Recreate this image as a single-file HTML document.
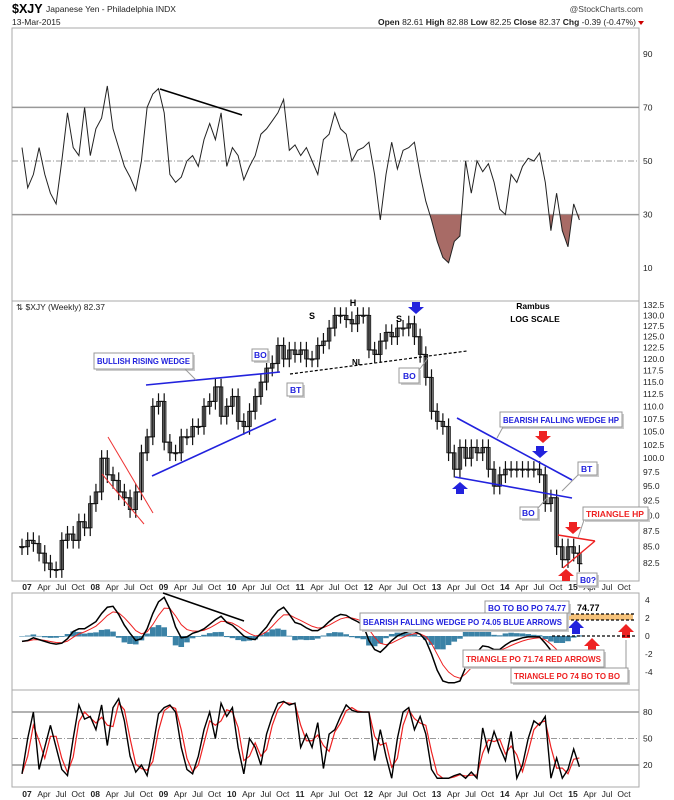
<!DOCTYPE html>
<html><head><meta charset="utf-8"><style>
html,body{margin:0;padding:0;background:#fff;}
svg{display:block;font-family:"Liberation Sans",sans-serif;}
.ax{font-size:8.5px;fill:#222;}
.bx{fill:#fff;stroke:#999;stroke-width:1;}
.sh{fill:#ccc;}
.bt{font-size:8.5px;font-weight:bold;}
</style></head><body>
<svg id="chart" width="674" height="800" viewBox="0 0 674 800" xmlns="http://www.w3.org/2000/svg">
<rect width="674" height="800" fill="#fff"/>
<g>
<text x="12" y="13" font-size="12.5" font-weight="bold">$XJY</text>
<text x="46" y="12" font-size="8.5" fill="#222">Japanese Yen - Philadelphia INDX</text>
<text x="12" y="25" font-size="8.5" fill="#222">13-Mar-2015</text>
<text x="643" y="12" font-size="8.5" fill="#444" text-anchor="end">@StockCharts.com</text>
<text x="636" y="25" font-size="8.5" fill="#222" text-anchor="end"><tspan font-weight="bold">Open</tspan> 82.61 <tspan font-weight="bold">High</tspan> 82.88 <tspan font-weight="bold">Low</tspan> 82.25 <tspan font-weight="bold">Close</tspan> 82.37 <tspan font-weight="bold">Chg</tspan> -0.39 (-0.47%)</text>
<polygon points="638,21 644,21 641,25" fill="#c00"/>
</g>
<g id="frames" fill="none" stroke="#aaa" stroke-width="1">
<rect x="12" y="28" width="627" height="273"/>
<rect x="12" y="301" width="627" height="280"/>
<rect x="12" y="593" width="627" height="97"/>
<rect x="12" y="690" width="627" height="97"/>
</g>
<g id="marks"></g>
<g id="axes"></g>
<g id="annot">
<text x="16" y="310" font-size="8.5" fill="#222">⇅ $XJY (Weekly) 82.37</text>
<text x="533" y="309" font-size="8.5" font-weight="bold" text-anchor="middle">Rambus</text>
<text x="535" y="322" font-size="8.5" font-weight="bold" text-anchor="middle">LOG SCALE</text>
<line x1="160" y1="89" x2="242" y2="115" stroke="#000" stroke-width="1.5"/>
<line x1="108" y1="437" x2="153" y2="513" stroke="#e33" stroke-width="1"/>
<line x1="102" y1="474" x2="144" y2="524" stroke="#e33" stroke-width="1"/>
<line x1="146" y1="385" x2="280" y2="372" stroke="#22d" stroke-width="1.6"/>
<line x1="152" y1="476" x2="276" y2="419" stroke="#22d" stroke-width="1.6"/>
<line x1="290" y1="374" x2="467" y2="351" stroke="#000" stroke-width="1.2" stroke-dasharray="3,2"/>
<text x="352" y="365" font-size="8" font-weight="bold">NL</text>
<text x="312" y="319" font-size="9" font-weight="bold" text-anchor="middle">S</text>
<text x="353" y="306" font-size="9" font-weight="bold" text-anchor="middle">H</text>
<text x="399" y="322" font-size="9" font-weight="bold" text-anchor="middle">S</text>
<line x1="457" y1="418" x2="572" y2="480" stroke="#22d" stroke-width="1.6"/>
<line x1="455" y1="477" x2="572" y2="498" stroke="#22d" stroke-width="1.6"/>
<line x1="558" y1="535" x2="595" y2="541" stroke="#e22" stroke-width="1.4"/>
<line x1="563" y1="568" x2="595" y2="541" stroke="#e22" stroke-width="1.4"/>
<g>
<polygon points="412,302 420,302 420,307 424,307 416,314 408,307 412,307" fill="#22d"/>
<polygon points="539,431 547,431 547,436 551,436 543,443 535,436 539,436" fill="#e22"/>
<polygon points="536,446 544,446 544,451 548,451 540,458 532,451 536,451" fill="#22d"/>
<polygon points="456,494 464,494 464,489 468,489 460,482 452,489 456,489" fill="#22d"/>
<polygon points="569,522 577,522 577,527 581,527 573,534 565,527 569,527" fill="#e22"/>
<polygon points="562,581 570,581 570,576 574,576 566,569 558,576 562,576" fill="#e22"/>
<polygon points="572,634 580,634 580,628 584,628 576,620 568,628 572,628" fill="#22d"/>
<polygon points="588,652 596,652 596,646 600,646 592,638 584,646 588,646" fill="#e22"/>
<polygon points="622,638 630,638 630,632 634,632 626,624 618,632 622,632" fill="#e22"/>
</g>
<g>
<rect x="96" y="355" width="99" height="16" class="sh"/><rect x="94" y="353" width="99" height="16" class="bx"/>
<text x="97" y="364" class="bt" fill="#22d" textLength="93" lengthAdjust="spacingAndGlyphs">BULLISH RISING WEDGE</text>
<line x1="185" y1="369" x2="196" y2="380" stroke="#999"/>
<rect x="254" y="351" width="16" height="12" class="sh"/><rect x="252" y="349" width="16" height="12" class="bx"/>
<text x="254" y="358" class="bt" fill="#22d" font-weight="normal">BO</text>
<rect x="289" y="385" width="16" height="13" class="sh"/><rect x="287" y="383" width="16" height="13" class="bx"/>
<text x="290" y="393" class="bt" fill="#22d" font-weight="normal">BT</text>
<rect x="401" y="370" width="20" height="15" class="sh"/><rect x="399" y="368" width="20" height="15" class="bx"/>
<text x="403" y="379" class="bt" fill="#22d" font-weight="normal">BO</text>
<line x1="419" y1="370" x2="428" y2="358" stroke="#999"/>
<rect x="502" y="414" width="122" height="15" class="sh"/><rect x="500" y="412" width="122" height="15" class="bx"/>
<text x="503" y="423" class="bt" fill="#22d" font-weight="normal" textLength="116" lengthAdjust="spacingAndGlyphs">BEARISH FALLING WEDGE HP</text>
<line x1="503" y1="427" x2="497" y2="438" stroke="#999"/>
<rect x="580" y="464" width="19" height="13" class="sh"/><rect x="578" y="462" width="19" height="13" class="bx"/>
<text x="581" y="472" class="bt" fill="#22d" font-weight="normal">BT</text>
<line x1="578" y1="475" x2="562" y2="491" stroke="#999"/>
<rect x="522" y="509" width="18" height="12" class="sh"/><rect x="520" y="507" width="18" height="12" class="bx"/>
<text x="522" y="516" class="bt" fill="#22d" font-weight="normal">BO</text>
<line x1="538" y1="508" x2="548" y2="497" stroke="#999"/>
<rect x="585" y="509" width="65" height="13" class="sh"/><rect x="583" y="507" width="65" height="13" class="bx"/>
<text x="586" y="517" class="bt" fill="#e22" font-weight="normal" textLength="58" lengthAdjust="spacingAndGlyphs">TRIANGLE HP</text>
<line x1="584" y1="520" x2="578" y2="538" stroke="#999"/>
<rect x="579" y="575" width="20" height="13" class="sh"/><rect x="577" y="573" width="20" height="13" class="bx"/>
<text x="580" y="583" class="bt" fill="#22d" font-weight="normal">B0?</text>
<line x1="163" y1="593" x2="244" y2="621" stroke="#000" stroke-width="1.5"/>
<rect x="566" y="614" width="67" height="6" fill="#f5c27a"/>
<line x1="566" y1="614" x2="636" y2="614" stroke="#000" stroke-dasharray="3,2" stroke-width="1.2"/>
<line x1="566" y1="620" x2="636" y2="620" stroke="#000" stroke-dasharray="3,2" stroke-width="1.2"/>
<line x1="552" y1="636" x2="636" y2="636" stroke="#000" stroke-dasharray="3,2" stroke-width="1.2"/>
<text x="577" y="611" font-size="9" font-weight="bold">74.77</text>
<rect x="487" y="604" width="84" height="12" class="sh"/><rect x="485" y="601" width="84" height="12" class="bx"/>
<text x="488" y="611" class="bt" fill="#22d" textLength="78" lengthAdjust="spacingAndGlyphs">BO TO BO PO 74.77</text>
<rect x="362" y="615" width="207" height="17" class="sh"/><rect x="360" y="613" width="207" height="17" class="bx"/>
<text x="363" y="625" class="bt" fill="#22d" textLength="199" lengthAdjust="spacingAndGlyphs">BEARISH FALLING WEDGE PO 74.05 BLUE ARROWS</text>
<rect x="465" y="652" width="141" height="17" class="sh"/><rect x="463" y="650" width="141" height="17" class="bx"/>
<text x="466" y="662" class="bt" fill="#e22" textLength="135" lengthAdjust="spacingAndGlyphs">TRIANGLE PO 71.74 RED ARROWS</text>
<rect x="513" y="670" width="117" height="15" class="sh"/><rect x="511" y="668" width="117" height="15" class="bx"/>
<text x="514" y="679" class="bt" fill="#e22" textLength="106" lengthAdjust="spacingAndGlyphs">TRIANGLE PO 74 BO TO BO</text>
<line x1="626" y1="668" x2="626" y2="640" stroke="#999"/>
</g>
</g>
</svg>
<script>
const months = 99;
const priceClose = [85,86,85.5,84,82.5,81.5,81.5,86,87,86,89,88,
92,94,100,97,96,94,93,91,94,101,104,110,
111,103,101,101,104,104,106,106,110,111,114,108,
110,112,107,106,109,112,115,118,119,123,120,122,
121,122,120,120,123,124,127,130,130,129,128,130,
130,122,121,124,126,125,127,127,128,125,121,116,
109,107,106,101,98,102,100,102,101,102,98,95,
97,98,98,98,98,98,98,97,92,93,85,83,
85,84,82.4];
const rsiValues = [55,40,45,55,45,38,34,50,68,55,52,70,
52,62,66,78,62,55,48,44,39,50,70,75,
77,68,45,42,44,50,52,48,58,64,58,68,
48,55,52,43,48,52,60,62,65,68,73,54,
56,52,55,50,45,58,60,68,62,60,50,54,
55,57,45,28,45,57,47,54,55,57,45,35,
28,20,14,12,20,22,50,38,50,46,49,42,
32,30,45,42,48,51,50,53,42,24,38,24,
18,34,28];
const macdValues = [-0.6,-0.5,-0.2,-0.4,-0.6,-0.8,-0.9,-0.8,-0.3,0.5,0.8,0.8,
1.2,1.6,2.5,3.2,3.3,2.4,1.2,0.3,-0.5,-0.3,0.8,2.5,
3.8,4.3,3.0,1.0,-0.2,-0.1,0.3,0.5,0.8,1.3,1.8,2.2,
1.5,1.2,0.6,0,-0.3,-0.4,0.3,1.0,2.0,2.8,3.2,2.4,
1.5,1.3,0.9,0.6,0.6,1.0,1.6,2.1,2.4,2.3,1.9,1.6,
1.2,-0.5,-1.5,-1.8,-1.2,-0.5,0,0.3,0.5,0.5,0.2,-0.5,
-2,-3.8,-5,-5.2,-5.2,-5,-3.5,-2.5,-1.8,-1.1,-1.2,-1.5,
-1.5,-1.0,-0.6,-0.4,-0.2,-0.1,-0.1,-0.1,-0.8,-1.6,-2.4,-3.0,
-3.2,-2.8,-2.5];
const stochValues = [10,50,80,15,40,65,40,15,8,50,88,72,
75,60,88,42,85,95,70,30,12,20,8,40,
78,85,88,80,40,15,10,30,60,80,50,90,
75,85,40,10,50,40,20,55,75,90,92,88,
90,40,55,40,68,16,55,60,75,88,82,80,
80,80,25,60,30,5,50,80,85,60,75,55,
15,5,5,5,8,10,5,12,5,62,35,58,
40,25,58,5,20,50,70,65,75,5,28,5,
15,38,18];
const yearLabels = ["07","08","09","10","11","12","13","14","15"];
const monthLabels = ["Apr","Jul","Oct"];
const rsiTicks = [90,70,50,30,10];
const priceTicks = [132.5,130,127.5,125,122.5,120,117.5,115,112.5,110,107.5,105,102.5,100,97.5,95,92.5,90,87.5,85,82.5];
const macdTicks = [4,2,0,-2,-4];
const stochTicks = [80,50,20];

const NS="http://www.w3.org/2000/svg";
const marks=document.getElementById('marks');
const axes=document.getElementById('axes');
function el(tag,attrs,parent){const e=document.createElementNS(NS,tag);for(const k in attrs)e.setAttribute(k,attrs[k]);(parent||marks).appendChild(e);return e;}
const xM=m=>22+m*68.25/12;
const yP=p=>305+Math.log(132.5/p)/0.4738*258;
const yR=v=>161-(v-50)*2.68;
const yM=v=>636-v*9;
const yS=v=>765-(v-20)*0.883;

// RSI panel
[70,30].forEach(v=>{const l=el('line',{x1:12,x2:639,y1:yR(v),y2:yR(v),stroke:'#999','stroke-width':1.5});

});
{const l=el('line',{x1:12,x2:639,y1:yR(50),y2:yR(50),stroke:'#999','stroke-dasharray':'6,2,1,2'});

}
const cp=el('clipPath',{id:'below30'});
el('rect',{x:12,y:yR(30),width:627,height:100},cp);
let rpts=rsiValues.map((v,i)=>xM(i).toFixed(1)+','+yR(v).toFixed(1));
{const f=el('polygon',{points:xM(0)+','+yR(30)+' '+rpts.join(' ')+' '+xM(months-1)+','+yR(30),fill:'#a86b66',stroke:'none','clip-path':'url(#below30)'});

}
{const p=el('polyline',{points:rpts.join(' '),fill:'none',stroke:'#222','stroke-width':1});

}
rsiTicks.forEach(v=>{const t=el('text',{x:643,y:yR(v)+3,class:'ax'},axes);t.textContent=v;

});

// Price bars
for(let i=0;i<months;i++){
 const prev=i?priceClose[i-1]:priceClose[0];
 const c=priceClose[i];
 const hi=Math.max(prev,c)*1.015, lo=Math.min(prev,c)*0.985;
 const x=xM(i);
 const g=el('g',{stroke:'#111','stroke-width':1.2});
 
 
 el('rect',{x:x-1.8,width:3.6,y:yP(Math.max(prev,c)),height:Math.max(1,yP(Math.min(prev,c))-yP(Math.max(prev,c))),fill:'#888','stroke-width':0.8},g);
 el('line',{x1:x,x2:x,y1:yP(hi),y2:yP(lo)},g);
 el('line',{x1:x-3,x2:x,y1:yP(prev),y2:yP(prev)},g);
 el('line',{x1:x,x2:x+3,y1:yP(c),y2:yP(c)},g);
}
priceTicks.forEach(v=>{const t=el('text',{x:643,y:yP(v)+3,class:'ax'},axes);t.textContent=v.toFixed(1);

});

// MACD
const signal=[];macdValues.forEach((v,i)=>signal.push(i?signal[i-1]+0.4*(v-signal[i-1]):v));
macdValues.forEach((v,i)=>{const h=(v-signal[i])*0.8;const y0=yM(0),y1=yM(h);
 const r=el('rect',{x:xM(i)-2.8,width:5.6,y:Math.min(y0,y1),height:Math.abs(y1-y0)+0.5,fill:'#3b82a6'});
 
 });
{const p=el('polyline',{points:signal.map((v,i)=>xM(i)+','+yM(v)).join(' '),fill:'none',stroke:'#e22','stroke-width':1});

}
{const p=el('polyline',{points:macdValues.map((v,i)=>xM(i)+','+yM(v)).join(' '),fill:'none',stroke:'#000','stroke-width':1.5});

}
macdTicks.forEach(v=>{const t=el('text',{x:645,y:yM(v)+3,class:'ax'},axes);t.textContent=v;

});

// Stochastic
[80,20].forEach(v=>{const l=el('line',{x1:12,x2:639,y1:yS(v),y2:yS(v),stroke:'#999','stroke-width':1.5});

});
{const l=el('line',{x1:12,x2:639,y1:yS(50),y2:yS(50),stroke:'#999','stroke-dasharray':'6,2,1,2'});

}
const stochSig=stochValues.map((v,i)=>i?(v+stochValues[i-1])/2:v);
{const p=el('polyline',{points:stochSig.map((v,i)=>xM(i)+','+yS(v)).join(' '),fill:'none',stroke:'#e22','stroke-width':1.2});

}
{const p=el('polyline',{points:stochValues.map((v,i)=>xM(i)+','+yS(v)).join(' '),fill:'none',stroke:'#000','stroke-width':1.4});

}
stochTicks.forEach(v=>{const t=el('text',{x:643,y:yS(v)+3,class:'ax'},axes);t.textContent=v;

});

// X axes
[590,797].forEach(yy=>{
 yearLabels.forEach((yl,i)=>{
  const base=27+i*68.25;
  const t=el('text',{x:base,y:yy,class:'ax','text-anchor':'middle','font-weight':'bold'},axes);t.textContent=yl;
  
  
  monthLabels.forEach((ml,q)=>{const u=el('text',{x:base+(q+1)*17,y:yy,class:'ax','text-anchor':'middle'},axes);u.textContent=ml;
  
  });
 });
});
</script>
</body></html>
